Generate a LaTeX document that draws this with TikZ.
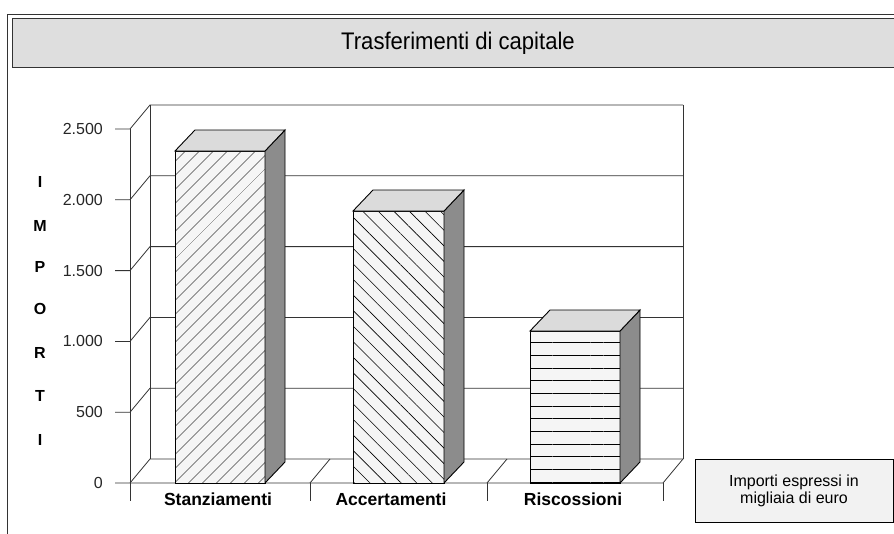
\documentclass[tikz,border=0pt]{standalone}
\usepackage{fontspec}
\setmainfont{Liberation Sans}
\newfontfamily\titlefont[FakeStretch=0.92]{Liberation Sans}
\usetikzlibrary{patterns.meta}
\newcommand\fsz[1]{\fontsize{#1}{#1}\selectfont}
\tikzset{
  frameline/.style={line width=0.9pt, black!80},
  gridline/.style={line width=0.8pt, black!80},
  frontface/.style={draw=black, line width=0.9pt},
  sideface/.style={draw=black, line width=0.9pt, fill=black!45},
  topface/.style={draw=black, line width=0.9pt, fill=black!14},
  numlabel/.style={font=\fsz{16}, anchor=east, text=black!85, inner sep=0pt},
  catlabel/.style={font=\bfseries\fsz{17.5}, inner sep=0pt},
  vletter/.style={font=\bfseries\fsz{16}, inner sep=0pt},
}
% bar: #1 left x, #2 right x, #3 top y, #4 pattern
\newcommand\drawchartbar[4]{%
  \fill[black!4] (#1,483) rectangle (#2,#3);
  \fill[pattern={#4}, pattern color=black] (#1,483) rectangle (#2,#3);
  \draw[frontface] (#1,483) rectangle (#2,#3);
  \draw[sideface] (#2,483) -- ++(20,-21) -- (#2+20,#3-21) -- (#2,#3) -- cycle;
  \draw[topface] (#1,#3) -- ++(20,-21) -- (#2+20,#3-21) -- (#2,#3) -- cycle;
}
\begin{document}
\begin{tikzpicture}[x=1pt,y=-1pt]
\useasboundingbox (0,0) rectangle (894,533);
% outer frame and title band
\draw[frameline] (7,540) -- (7,14) -- (900,14);
\draw[frameline, fill=black!13] (12,18) rectangle (900,67);
\node[font=\titlefont\fsz{24}] (title) at (458,43) {Trasferimenti di capitale};
% walls and gridlines
\foreach \v [evaluate=\v as \yy using 483-\v*70.8] in {0,...,5}{
  \draw[gridline] (115,\yy) -- (130,\yy) -- (150,\yy-24) -- (683,\yy-24);
}
\draw[gridline] (150,105) -- (150,459);
\draw[gridline] (683,105) -- (683,459);
\draw[gridline] (130,129) -- (130,501);
% floor
\draw[gridline] (130,483) -- (663,483) -- (683,459);
\draw[gridline] (310,483) -- (330,459);
\draw[gridline] (487,483) -- (507,459);
\draw[gridline] (310,483) -- (310,501);
\draw[gridline] (487,483) -- (487,501);
\draw[gridline] (663,483) -- (663,501);
% axis labels
\node[numlabel] (n0) at (103,483) {0};
\node[numlabel] (n500) at (103,412.2) {500};
\node[numlabel] (n1000) at (103,341.4) {1.000};
\node[numlabel] (n1500) at (103,270.6) {1.500};
\node[numlabel] (n2000) at (103,199.8) {2.000};
\node[numlabel] (n2500) at (103,129) {2.500};
% vertical axis title
\node[vletter] (l1) at (40,182) {I};
\node[vletter] (l2) at (40,226) {M};
\node[vletter] (l3) at (40,267) {P};
\node[vletter] (l4) at (40,309) {O};
\node[vletter] (l5) at (40,353) {R};
\node[vletter] (l6) at (40,396) {T};
\node[vletter] (l7) at (40,440) {I};
% bars
\drawchartbar{175}{265}{151}{Lines[angle=45,distance=10.5pt,line width=0.6pt]}
\drawchartbar{353}{444}{211}{Lines[angle=-45,distance=11pt,line width=0.6pt]}
\drawchartbar{530}{620}{331}{Lines[angle=0,distance=12.7pt,line width=0.7pt]}
% category labels
\node[catlabel] (c1) at (218,499) {Stanziamenti};
\node[catlabel] (c2) at (391,499) {Accertamenti};
\node[catlabel] (c3) at (573,499) {Riscossioni};
% legend
\node[draw, line width=0.9pt, fill=black!5, minimum width=198, minimum height=63,
      align=center, font=\fsz{16}, inner sep=0pt] (legend) at (794,490.5)
      {Importi espressi in\\[1pt]migliaia di euro};
\end{tikzpicture}
\end{document}
